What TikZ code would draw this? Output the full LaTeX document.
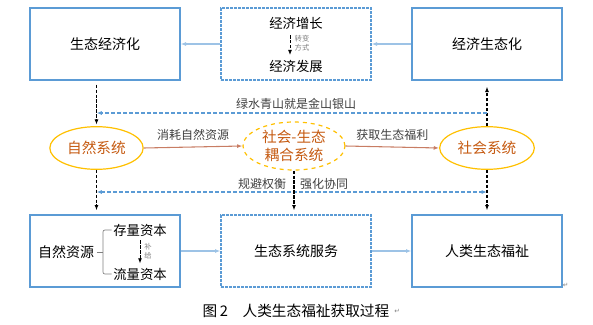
\documentclass[tikz,border=0pt]{standalone}
\usepackage{fontspec}
\setmainfont{Noto Sans CJK SC}
\newfontfamily\symfont{DejaVu Sans}
\usetikzlibrary{shapes.geometric,arrows.meta}
\definecolor{boxblue}{RGB}{91,155,213}
\definecolor{lineblue}{RGB}{157,195,230}
\definecolor{ringgold}{RGB}{255,192,0}
\definecolor{textbrown}{RGB}{197,90,17}
\definecolor{arrowbrown}{RGB}{200,125,100}
\definecolor{labelgray}{RGB}{64,64,64}

\begin{document}
\begin{tikzpicture}[x=0.75pt, y=-0.75pt, >={Latex[length=4pt,width=3pt]},
  kasten/.style={draw=boxblue, line width=1pt, minimum width=112.5pt,
    minimum height=54pt, inner sep=0pt, font=\fontsize{10.5pt}{12pt}\selectfont},
  kastend/.style={kasten, dash pattern=on 2pt off 1pt},
  ring/.style={ellipse, draw=ringgold, line width=0.9pt, text=textbrown,
    inner sep=0pt, align=center, font=\fontsize{11pt}{13pt}\selectfont},
  etikett/.style={text=labelgray, font=\fontsize{9pt}{10pt}\selectfont},
  klein/.style={text=gray, align=center, inner sep=0pt,
    font=\fontsize{5.5pt}{6.5pt}\selectfont},
  kdash/.style={->, line width=1pt, dash pattern=on 2.5pt off 1.2pt},
  bdash/.style={draw=boxblue, line width=0.9pt, dash pattern=on 3pt off 1.5pt},
  hell/.style={->, draw=lineblue, line width=0.8pt},
  braun/.style={->, draw=arrowbrown, line width=0.8pt}]
  \useasboundingbox (0,0) rectangle (593,325);

  % Obere Reihe
  \node[kasten] (seco) at (105,44) {生态经济化};
  \node[kastend] (jj) at (296,44) {};
  \node[kasten] (ecos) at (487,44) {经济生态化};
  \node[font=\fontsize{10pt}{12pt}\selectfont] (jjzz) at (296,23) {经济增长};
  \node[font=\fontsize{10pt}{12pt}\selectfont] (jjfz) at (296,66) {经济发展};
  \draw[kdash, line width=0.6pt, shorten <=1pt]
    ([xshift=-4.5pt]jjzz.south) -- ([xshift=-4.5pt]jjfz.north);
  \node[klein] (zb) at (302,43) {转变\\方式};
  \draw[hell] (jj.west) -- (seco.east);
  \draw[hell] (ecos.west) -- (jj.east);

  % Mittlere Reihe
  \node[ring, minimum width=70pt, minimum height=32pt] (zr) at (96.5,148) {自然系统};
  \node[ring, dashed, minimum width=76.5pt, minimum height=36pt] (oh) at (294,146)
    {社会-生态\\耦合系统};
  \node[ring, minimum width=71pt, minimum height=32pt] (sh) at (487,148) {社会系统};
  \draw[braun] (zr.east) -- (oh.west)
    node[etikett, midway, above=1pt] {消耗自然资源};
  \draw[braun] (oh.east) -- (sh.west)
    node[etikett, midway, above=1pt] {获取生态福利};

  % Senkrechte Pfeile
  \draw[kdash, shorten <=3pt, shorten >=1pt] (seco.south -| zr.north) -- (zr.north);
  \draw[kdash, shorten >=4.5pt] (sh.north) -- (sh.north |- ecos.south);

  % Blaue Rueckkopplung
  \coordinate (ob) at (0,113);
  \coordinate (un) at (0,192);
  \draw[bdash, ->] (sh.north |- ob) -- (zr.north |- ob);
  \node[etikett] (lsqs) at (296,104) {绿水青山就是金山银山};
  \draw[bdash, <->] (zr.south |- un) -- (sh.south |- un);
  \node[etikett] (gbqh) at (262,184) {规避权衡};
  \node[etikett] (qhxt) at (324,184) {强化协同};

  % Untere Reihe
  \node[kasten] (zy) at (105,251) {};
  \node[kastend] (fw) at (296,251) {生态系统服务};
  \node[kasten] (fz) at (487,251) {人类生态福祉};
  \draw[kdash, shorten >=3pt] (zr.south) -- (zr.south |- zy.north);
  \draw[kdash, shorten >=3pt] (oh.south) -- (oh.south |- fw.north);
  \draw[kdash, shorten >=3pt] (sh.south) -- (sh.south |- fz.north);
  \draw[hell] (zy.east) -- (fw.west);
  \draw[hell] (fw.east) -- (fz.west);

  % Naturkapital
  \node[font=\fontsize{10.5pt}{12pt}\selectfont, inner sep=2pt] (zyt) at (66,252) {自然资源};
  \node[font=\fontsize{10pt}{12pt}\selectfont, inner sep=1pt] (cl) at (140,230) {存量资本};
  \node[font=\fontsize{10pt}{12pt}\selectfont, inner sep=1pt] (ll) at (140,274) {流量资本};
  \draw[gray, line width=0.5pt] (zyt.east) -- ++(6,0) coordinate (kl);
  \draw[gray, line width=0.5pt, rounded corners=1.5pt]
    (cl.west) -- (cl.west -| kl) -- (ll.west -| kl) -- (ll.west);
  \draw[kdash, line width=0.7pt, shorten <=2pt, shorten >=2pt] (cl.south) -- (ll.north);
  \node[klein] (bg) at (148,251) {补\\给};

  % Bildunterschrift
  \node[font=\fontsize{11pt}{13pt}\selectfont] (cap) at (296,311)
    {图\,2\quad 人类生态福祉获取过程};
  \node[text=gray, inner sep=0pt, font=\symfont\fontsize{5pt}{6pt}\selectfont,
    anchor=west] (pm1) at (cap.east) {↵};
  \node[text=gray, inner sep=0pt, font=\symfont\fontsize{5pt}{6pt}\selectfont,
    anchor=south west] (pm2) at (fz.south east) {↵};
\end{tikzpicture}
\end{document}
